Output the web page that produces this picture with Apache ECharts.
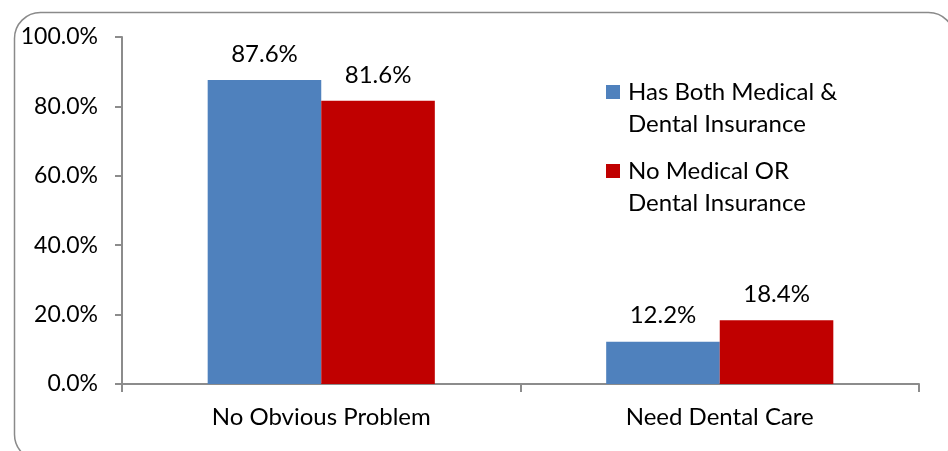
<!DOCTYPE html>
<html>
<head>
<meta charset="utf-8">
<script src="https://cdn.jsdelivr.net/npm/echarts@6/dist/echarts.min.js"></script>
<style>
  html, body { margin: 0; padding: 0; background: #fff; }
  #chart { width: 948px; height: 451px; }
</style>
</head>
<body>
<div id="chart"></div>
<script>
// Categories and series values (percent)
const categories = ['No Obvious Problem', 'Need Dental Care'];
const seriesNames = ['Has Both Medical &\nDental Insurance', 'No Medical OR\nDental Insurance'];
const bothInsured = [87.6, 12.2];
const noInsurance = [81.6, 18.4];
const seriesColors = ['#4f81bd', '#c00000'];

const FONT = 'Lato, "Open Sans", sans-serif';
const axisGray = '#8c8c8c';
const LEGEND_LINE = 32;

const chart = echarts.init(document.getElementById('chart'), null, { renderer: 'canvas' });

function pct(v) { return v.toFixed(1) + '%'; }

// One legend block per series. A blank leading line keeps the swatch
// level with the first line of the two-line name (text is centred on the swatch).
function legendFor(name, top) {
  return {
    left: 606,
    top: top,
    padding: 0,
    itemWidth: 14,
    itemHeight: 14,
    icon: 'rect',
    formatter: n => ' \n' + n,
    textStyle: {
      fontFamily: FONT, fontSize: 24, color: '#000',
      lineHeight: LEGEND_LINE,
      padding: [0, 0, 0, 3]
    },
    data: [name]
  };
}

const option = {
  animation: false,
  backgroundColor: '#fff',
  textStyle: { fontFamily: FONT },
  graphic: [{
    type: 'rect',
    left: 12, top: 10, silent: true,
    shape: { width: 940, height: 448, r: 26 },
    style: { fill: 'none', stroke: '#8a8a8a', lineWidth: 1.5 }
  }],
  legend: [
    legendFor(seriesNames[0], 92 - 48),
    legendFor(seriesNames[1], 171 - 48)
  ],
  grid: { left: 122, right: 29, top: 37, bottom: 67, containLabel: false },
  xAxis: {
    type: 'category',
    data: categories,
    axisLine: { lineStyle: { color: axisGray, width: 2 } },
    axisTick: { show: true, length: 8, lineStyle: { color: axisGray, width: 2 } },
    axisLabel: { color: '#000', fontSize: 24, fontFamily: FONT, margin: 21 }
  },
  yAxis: {
    type: 'value',
    min: 0, max: 100, interval: 20,
    splitLine: { show: false },
    axisLine: { show: true, lineStyle: { color: axisGray, width: 2 } },
    axisTick: { show: true, length: 7, lineStyle: { color: axisGray, width: 2 } },
    axisLabel: { color: '#000', fontSize: 23, fontFamily: FONT, margin: 24, formatter: v => v.toFixed(1) + '%' }
  },
  series: [
    {
      name: seriesNames[0], type: 'bar', data: bothInsured,
      barGap: '0%', barCategoryGap: '43%',
      itemStyle: { color: seriesColors[0] },
      label: { show: true, position: 'top', distance: 14, color: '#000', fontSize: 24, fontFamily: FONT, formatter: p => pct(p.value) }
    },
    {
      name: seriesNames[1], type: 'bar', data: noInsurance,
      barGap: '0%', barCategoryGap: '43%',
      itemStyle: { color: seriesColors[1] },
      label: { show: true, position: 'top', distance: 14, color: '#000', fontSize: 24, fontFamily: FONT, formatter: p => pct(p.value) }
    }
  ]
};

chart.setOption(option);
</script>
</body>
</html>
